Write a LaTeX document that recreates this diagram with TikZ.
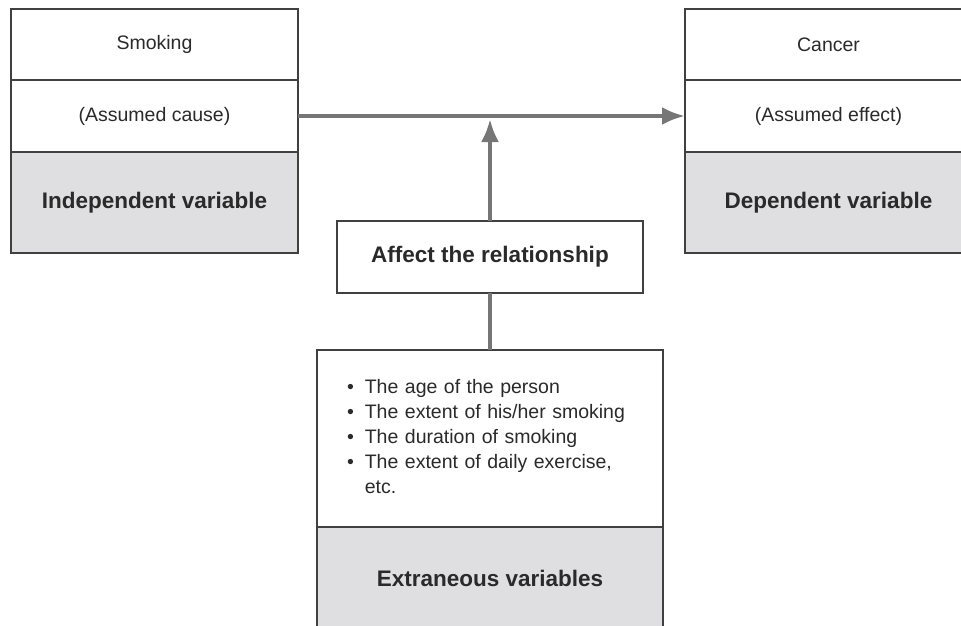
\documentclass[tikz,border=0pt]{standalone}
\usepackage{fontspec}
\setmainfont{Liberation Sans}
\usetikzlibrary{positioning,arrows.meta}

\definecolor{boxline}{HTML}{404040}
\definecolor{greypart}{HTML}{DFDFE1}
\definecolor{linkgrey}{HTML}{767676}
\definecolor{textcol}{HTML}{2A2A2A}

\begin{document}
\begin{tikzpicture}[
    x=1pt, y=1pt,
    every node/.style={inner sep=0pt, outer sep=0pt},
    PartShape/.style={rectangle, draw=boxline, line width=1.5pt,
        fill=white, text=textcol, font=\fontsize{19.5}{25}\selectfont},
    LabelShape/.style={PartShape, fill=greypart,
        font=\fontsize{22.5}{27}\selectfont\bfseries},
    SideBox/.style={minimum width=287pt},
    MidBox/.style={minimum width=346pt},
    LinkLine/.style={draw=linkgrey, line width=4pt},
    LinkArrow/.style={LinkLine, -{Latex[length=23pt,width=18pt]}}
]
\useasboundingbox (0,0) rectangle (961,-626);
\clip (0,0) rectangle (961,-626);

% independent variable
\node (smoking) [PartShape, SideBox, minimum height=71pt] at (154.5,-44.5) {Smoking};
\node (cause) [PartShape, SideBox, minimum height=72pt, below=0pt of smoking] {(Assumed cause)};
\node (indep) [LabelShape, SideBox, minimum height=101pt, below=0pt of cause] {Independent variable};

% dependent variable
\node (cancer) [PartShape, SideBox, minimum height=71pt] at (828.5,-44.5) {Cancer};
\node (effect) [PartShape, SideBox, minimum height=72pt, below=0pt of cancer] {(Assumed effect)};
\node (dep) [LabelShape, SideBox, minimum height=101pt, below=0pt of effect] {Dependent variable};

% extraneous variables
\node (affect) [PartShape, font=\fontsize{22.5}{27}\selectfont\bfseries,
    minimum width=306pt, minimum height=72pt] at (490,-257) {Affect the relationship};
\node (extralist) [PartShape, MidBox, minimum height=177pt, inner xsep=30pt,
    text width=286pt, align=left] at (490,-438.5) {%
    \begin{tabular}{@{}l@{\hspace{11pt}}l@{}}
    \textbullet & The age of the person\\
    \textbullet & The extent of his/her smoking\\
    \textbullet & The duration of smoking\\
    \textbullet & The extent of daily exercise,\\
                & etc.
    \end{tabular}};
\node (extra) [LabelShape, MidBox, minimum height=102pt, below=0pt of extralist] {Extraneous variables};

% links
\coordinate (meet) at (490,-119);
\draw[LinkArrow] (cause.east) -- (effect.west);
\draw[LinkArrow] (affect.north) -- (meet);
\draw[LinkLine] (affect.south) -- (extralist.north);
\end{tikzpicture}
\end{document}
